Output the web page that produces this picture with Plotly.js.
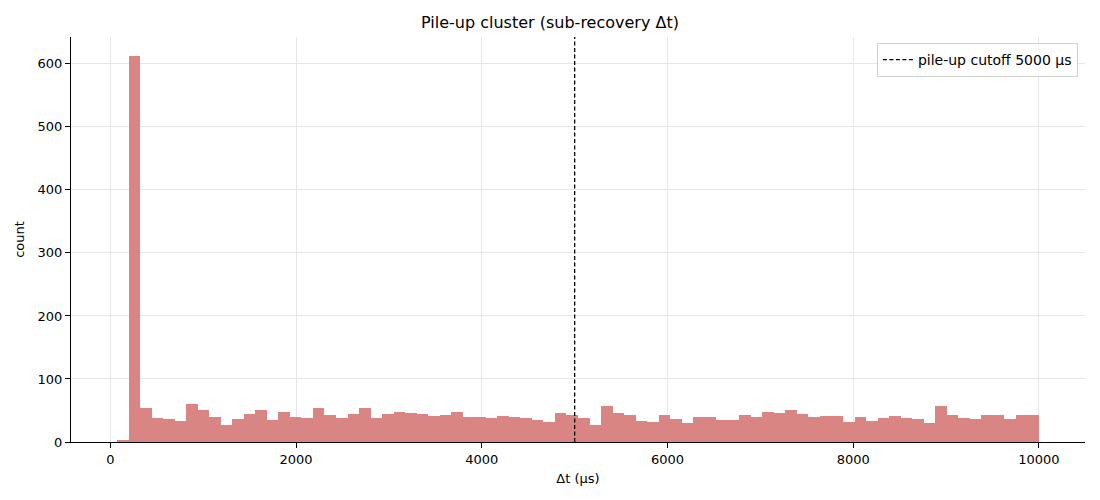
<!DOCTYPE html>
<html>
<head>
<meta charset="utf-8">
<script src="https://cdn.plot.ly/plotly-3.0.1.min.js"></script>
<style>
  html, body { margin: 0; padding: 0; background: #fff; }
  #chart { width: 1100px; height: 500px; }
</style>
</head>
<body>
<div id="chart"></div>
<script>
// histogram bins: 80 equal bins from the smallest delta up to 10000 us
var binStart = 72;
var binEnd = 10000;
var counts = [
  3, 612, 54, 38, 36, 33, 61, 51, 40, 27,
  36, 45, 51, 35, 48, 40, 38, 54, 43, 38,
  44, 54, 38, 44, 48, 46, 44, 41, 43, 48,
  40, 40, 38, 41, 40, 38, 35, 32, 46, 43,
  38, 27, 57, 46, 43, 33, 32, 43, 36, 30,
  40, 40, 35, 35, 43, 40, 48, 46, 51, 44,
  40, 41, 41, 32, 40, 33, 38, 41, 38, 36,
  30, 57, 43, 38, 36, 43, 43, 36, 43, 43
];

var xTicks = [0, 2000, 4000, 6000, 8000, 10000];
var xTickText = ['0', '2000', '4000', '6000', '8000', '10000'];
var yTicks = [0, 100, 200, 300, 400, 500, 600];

var cutoff = 5000;
var cutoffLabel = 'pile-up cutoff 5000 μs';

var barColour = 'rgb(217,133,131)';
var font = 'DejaVu Sans, sans-serif';

var binWidth = (binEnd - binStart) / counts.length;
var centres = counts.map(function(c, i) {
  return binStart + (i + 0.5) * binWidth;
});

var yTop = Math.max.apply(null, counts) * 1.05;

// bars
var hist = {
  x: centres,
  y: counts,
  width: binWidth,
  type: 'bar',
  marker: {color: barColour, line: {width: 0}},
  showlegend: false,
  hoverinfo: 'x+y'
};

// cutoff line
var cut = {
  x: [cutoff, cutoff],
  y: [0, yTop],
  mode: 'lines',
  type: 'scatter',
  line: {color: '#000', width: 1.3, dash: '4px,2.5px'},
  name: cutoffLabel
};

var layout = {
  width: 1100,
  height: 500,
  margin: {l: 71, r: 15, t: 37, b: 58},
  paper_bgcolor: '#fff',
  plot_bgcolor: '#fff',
  font: {family: font, size: 13, color: '#000'},
  bargap: 0,
  title: {text: 'Pile-up cluster (sub-recovery Δt)', x: 0.5, xanchor: 'center', y: 0.955, yanchor: 'middle', font: {size: 16}},
  xaxis: {
    range: [-424, 10496],
    tickvals: xTicks,
    ticktext: xTickText,
    ticks: 'outside', ticklen: 5, tickcolor: '#000',
    showgrid: true, gridcolor: '#e6e6e6', gridwidth: 1,
    zeroline: false,
    showline: true, linecolor: '#000', linewidth: 1,
    title: {text: 'Δt (μs)', standoff: 8, font: {size: 13}}
  },
  yaxis: {
    range: [0, yTop],
    tickvals: yTicks,
    ticks: 'outside', ticklen: 5, tickcolor: '#000',
    showgrid: true, gridcolor: '#e6e6e6', gridwidth: 1,
    zeroline: false,
    showline: true, linecolor: '#000', linewidth: 1,
    title: {text: 'count', standoff: 10, font: {size: 13}}
  },
  legend: {
    x: 0.993, y: 0.985, xanchor: 'right', yanchor: 'top',
    bgcolor: 'rgba(255,255,255,0.8)', bordercolor: '#d0d0d0', borderwidth: 1,
    font: {size: 14},
    itemwidth: 30,
    tracegroupgap: 0
  }
};

Plotly.newPlot('chart', [hist, cut], layout, {displayModeBar: false});
</script>
</body>
</html>
